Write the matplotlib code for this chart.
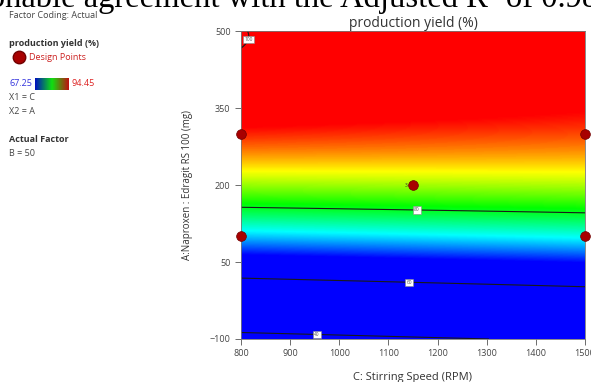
import numpy as np
import matplotlib
matplotlib.use("Agg")
import matplotlib.pyplot as plt
from matplotlib.colors import LinearSegmentedColormap

plt.rcParams['font.family'] = ['Open Sans', 'DejaVu Sans']

# factor ranges (actual units)
speed_range = [800, 1500]      # C: stirring speed (RPM)
ratio_range = [-100, 500]      # A: Naproxen : Eudragit RS 100 (mg)

# response model in coded units (c, a in [-1, 1]):
# y = b0 + bA*a + bAA*a^2 + (c+1)*(bC + bAC*a + bACC*a^2)
b0, bA, bAA = 84.87, 31.375, -16.15
bC, bAC, bACC = 0.287, -2.171, -0.617

# colour scale limits (design point min / max)
y_min, y_max = 67.25, 94.45

contour_levels = [40, 60, 80, 100]
label_spots = [(955, -91), (1142, 8), (1158, 158), (814, 484)]

# design points (speed, ratio), centre point replicated 3x
pts_speed = [800, 1500, 800, 1500, 1150]
pts_ratio = [300, 300, 100, 100, 200]


def response(speed, ratio):
    c = (speed - 1150) / 350.0
    a = (ratio - 200) / 300.0
    return b0 + bA * a + bAA * a ** 2 + (c + 1) * (bC + bAC * a + bACC * a ** 2)


cmap = LinearSegmentedColormap.from_list(
    'de', ['#0000ff', '#00ffff', '#00ff00', '#ffff00', '#ff0000'])
bar_cmap = LinearSegmentedColormap.from_list(
    'bar', ['#0010c0', '#10e010', '#c01010'])

fig = plt.figure(figsize=(5.91, 3.82), dpi=100)
ax = fig.add_axes([0.4078, 0.1126, 0.582, 0.806])

xs = np.linspace(speed_range[0], speed_range[1], 300)
ys = np.linspace(ratio_range[0], ratio_range[1], 300)
X, Y = np.meshgrid(xs, ys)
Z = response(X, Y)

ax.imshow(Z, origin='lower', aspect='auto', cmap=cmap, vmin=y_min, vmax=y_max,
          extent=[speed_range[0], speed_range[1], ratio_range[0], ratio_range[1]],
          interpolation='bilinear')
cs = ax.contour(X, Y, Z, levels=contour_levels, colors='#1a1a1a', linewidths=0.8)
labels = ax.clabel(cs, fmt='%d', fontsize=3.5, inline=False, manual=label_spots,
                   colors='#555555')
for t in labels:
    t.set_rotation(0)
    t.set_bbox(dict(boxstyle='square,pad=0.25', fc='white', ec='#888888', lw=0.4))

ax.plot(pts_speed, pts_ratio, 'o', color='#a80000', mec='#700000', mew=0.5,
        ms=7, clip_on=False, zorder=5)
ax.text(1138, 200, '3', fontsize=3.5, ha='right', va='center', color='#333333')

ax.set_xlim(speed_range)
ax.set_ylim(ratio_range)
ax.set_xticks(range(800, 1501, 100))
ax.set_yticks([-100, 50, 200, 350, 500])
ax.tick_params(direction='out', length=4, width=0.6, colors='#555555',
               labelsize=6.5, labelcolor='#444444')
for s in ax.spines.values():
    s.set_color('#777777')
    s.set_linewidth(0.6)

ax.set_title('production yield (%)', fontsize=10, color='#333333', pad=3)
ax.set_xlabel('C: Stirring Speed (RPM)', fontsize=8, color='#333333', labelpad=10)
ax.set_ylabel('A:Naproxen : Edragit RS 100 (mg)', fontsize=7, color='#333333',
              labelpad=12)


# left information panel, positions in pixels from the top-left corner
def px(x, y):
    return x / 591.0, 1 - y / 382.0


info = dict(fontsize=6.5, color='#444444', va='center')
fig.text(*px(9, 16), 'Factor Coding: Actual', **info)
fig.text(*px(9, 43), 'production yield (%)', fontsize=6.5, weight='bold',
         color='#333333', va='center')
fig.lines.append(plt.Line2D([19 / 591], [1 - 57 / 382], transform=fig.transFigure,
                            marker='o', ms=9, color='#a80000', mec='#700000'))
fig.text(*px(29, 57), 'Design Points', fontsize=6.5, color='#cc2222', va='center')
fig.text(*px(9, 84), '67.25', fontsize=6.5, color='#3333dd', va='center')
cax = fig.add_axes([35 / 591, 1 - 90 / 382, 34 / 591, 12 / 382])
cax.imshow(np.linspace(0, 1, 100)[None, :], aspect='auto', cmap=bar_cmap)
cax.set_axis_off()
fig.text(*px(71, 84), '94.45', fontsize=6.5, color='#dd2222', va='center')
fig.text(*px(9, 98), 'X1 = C', **info)
fig.text(*px(9, 112), 'X2 = A', **info)
fig.text(*px(9, 139), 'Actual Factor', fontsize=6.5, weight='bold',
         color='#333333', va='center')
fig.text(*px(9, 153), 'B = 50', **info)

# running text of the page above the figure
fig.text(-0.040, 1 - 7 / 382, 'sonable agreement with the Adjusted R\u00b2 of 0.98',
         fontsize=23.5, family='Liberation Serif', color='black', va='baseline')

fig.savefig('out.png', dpi=100)
